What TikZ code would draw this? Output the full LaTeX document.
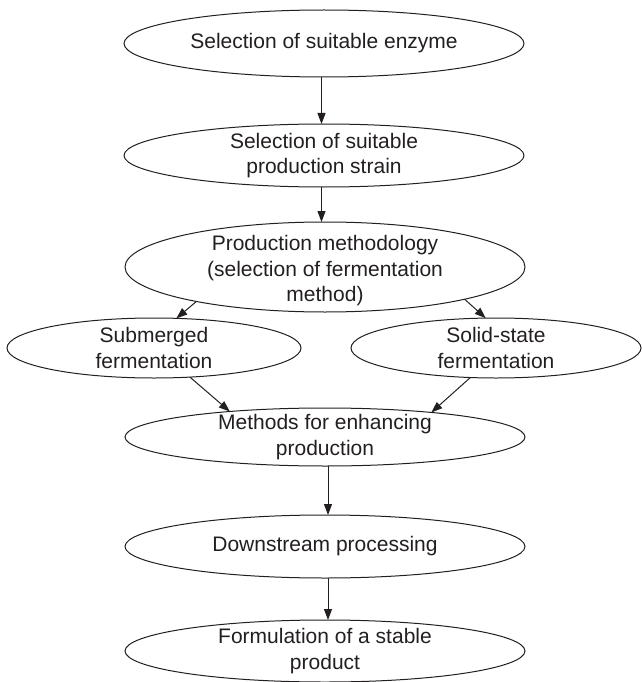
\documentclass[tikz,border=0pt]{standalone}
\usepackage{fontspec}
\setmainfont{Liberation Sans}
\usetikzlibrary{shapes.geometric,arrows.meta}
\definecolor{ink}{HTML}{231F20}
\begin{document}
\begin{tikzpicture}[x=1pt,y=-1pt,
  stage/.style={draw=ink, line width=1pt, ellipse, inner sep=0pt, outer sep=0pt},
  txt/.style={align=center, text=ink, font=\fontsize{21}{25.5}\selectfont, inner sep=0pt},
  flow/.style={draw=ink, line width=1pt, -{Triangle[length=11pt,width=8pt]}}]
  \useasboundingbox (0,0) rectangle (641,682);

  % process stages
  \node[stage, minimum width=400pt, minimum height=67pt,
        label={[txt]center:Selection of suitable enzyme}] (enzyme) at (324,43.5) {};
  \node[stage, minimum width=400pt, minimum height=63pt,
        label={[txt]center:Selection of suitable\\production strain}] (strain) at (324,155.5) {};
  \node[stage, minimum width=400pt, minimum height=90pt,
        label={[txt,yshift=-4pt]center:Production methodology\\(selection of fermentation\\method)}] (method) at (325,267) {};
  \node[stage, minimum width=294pt, minimum height=60pt,
        label={[txt]center:Submerged\\fermentation}] (smf) at (154,348) {};
  \node[stage, minimum width=290pt, minimum height=60pt,
        label={[txt]center:Solid-state\\fermentation}] (ssf) at (496,348) {};
  \node[stage, minimum width=400pt, minimum height=58pt,
        label={[txt]center:Methods for enhancing\\production}] (enhance) at (325,437) {};
  \node[stage, minimum width=400pt, minimum height=63pt,
        label={[txt]center:Downstream processing}] (downstream) at (325,546.5) {};
  \node[stage, minimum width=400pt, minimum height=62pt,
        label={[txt]center:Formulation of a stable\\product}] (formulation) at (325,651) {};

  % connectors
  \draw[flow] ([xshift=-2.5pt]enzyme.south) -- ([xshift=-2.5pt]strain.north);
  \draw[flow] ([xshift=-2.5pt]strain.south) -- ([xshift=-3.5pt]method.north);
  \draw[flow] (method.195.5) -- (smf.53);
  \draw[flow] (method.347) -- (ssf.109);
  \draw[flow] (smf.321) -- (enhance.165);
  \draw[flow] (ssf.229) -- (enhance.13);
  \draw[flow] ([xshift=3pt]enhance.south) -- ([xshift=3pt]downstream.north);
  \draw[flow] ([xshift=3pt]downstream.south) -- ([xshift=3pt]formulation.north);
\end{tikzpicture}
\end{document}
